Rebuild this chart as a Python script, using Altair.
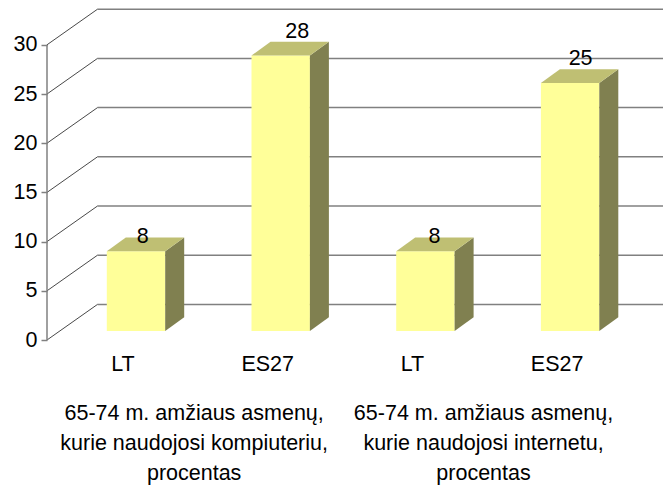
import altair as alt
import pandas as pd

# ---- chart values ----
categories = ["LT", "ES27", "LT", "ES27"]
values = [8.1, 28.0, 8.1, 25.2]
group_labels = [
    "65-74 m. amžiaus asmenų,\nkurie naudojosi kompiuteriu,\nprocentas",
    "65-74 m. amžiaus asmenų,\nkurie naudojosi internetu,\nprocentas",
]
group_centers = [0.495, 2.495]
y_ticks = [0, 5, 10, 15, 20, 25, 30]

# ---- 3D projection, in scale units ----
PX_X = 144.7            # px per category
PX_Y = 9.84             # px per value unit
WALL_DX, WALL_DY = 50.5 / PX_X, 35.6 / PX_Y
BAR_SHIFT = 13.5 / PX_X
BAR_HALF = 29.2 / PX_X
BAR_BASE = 9.0 / PX_Y
BAR_DX, BAR_DY = 19.0 / PX_X, 13.8 / PX_Y
X_DOMAIN = [-75.5 / PX_X, 540.5 / PX_X]
Y_DOMAIN = [0, 332 / PX_Y]
LABEL_NUDGE_X = [6.7, 16.5, 9.0, 10.5]
LABEL_NUDGE_Y = [8.0, 17.5, 8.0, 18.0]

FONT = "Liberation Sans"
FS = 21.5
FRONT, TOP, SIDE = "#FFFF99", "#BFBF73", "#808050"
GRID = "#808080"

xs = alt.Scale(domain=X_DOMAIN, nice=False, zero=False)
ys = alt.Scale(domain=Y_DOMAIN, nice=False, zero=False)
x_axis = alt.Axis(
    values=list(range(len(categories))),
    labelExpr="[" + ",".join(f"'{c}'" for c in categories) + "][datum.value]",
    domain=False, ticks=False, grid=False, title=None, labelFont=FONT, labelFontSize=FS,
    labelColor="black", labelPadding=13, labelOverlap=False, labelFlush=False)
y_axis = alt.Axis(
    values=y_ticks, domain=False, grid=False, title=None, tickColor=GRID, tickWidth=1.5,
    tickSize=6, labelFont=FONT, labelFontSize=FS, labelColor="black", labelPadding=4)
X = lambda f="x": alt.X(f"{f}:Q", scale=xs, axis=x_axis)
Y = lambda f="y": alt.Y(f"{f}:Q", scale=ys, axis=y_axis)

# gridlines
slant, flat = [], []
for t in y_ticks:
    slant += [{"t": t, "x": X_DOMAIN[0], "y": t},
              {"t": t, "x": X_DOMAIN[0] + WALL_DX, "y": t + WALL_DY}]
    flat += [{"t": t, "x": X_DOMAIN[0] + WALL_DX, "y": t + WALL_DY},
             {"t": t, "x": X_DOMAIN[1], "y": t + WALL_DY}]
slant_layer = alt.Chart(pd.DataFrame(slant)).mark_line(color="#333333", strokeWidth=0.9).encode(
    x=X(), y=Y(), detail="t:N")
flat_layer = alt.Chart(pd.DataFrame(flat)).mark_line(color=GRID, strokeWidth=1.5).encode(
    x=X(), y=Y(), detail="t:N")

# bar faces
front, side, top, labels = [], [], [], []
for i, v in enumerate(values):
    l = i + BAR_SHIFT - BAR_HALF
    r = i + BAR_SHIFT + BAR_HALF
    t = BAR_BASE + v
    front.append({"x": l, "x2": r, "y": BAR_BASE, "y2": t})
    side += [{"b": i, "x": r, "y": BAR_BASE, "y2": t},
             {"b": i, "x": r + BAR_DX, "y": BAR_BASE + BAR_DY, "y2": t + BAR_DY}]
    top += [{"b": i, "y": t, "x": l, "x2": r},
            {"b": i, "y": t + BAR_DY, "x": l + BAR_DX, "x2": r + BAR_DX}]
    labels.append({"x": i + BAR_SHIFT + LABEL_NUDGE_X[i] / PX_X,
                   "y": t + LABEL_NUDGE_Y[i] / PX_Y,
                   "text": f"{v:.0f}"})

front_layer = alt.Chart(pd.DataFrame(front)).mark_rect(color=FRONT).encode(
    x=X(), x2="x2:Q", y=Y(), y2="y2:Q")
side_layer = alt.Chart(pd.DataFrame(side)).mark_area(color=SIDE, orient="vertical").encode(
    x=X(), y=Y(), y2="y2:Q", detail="b:N")
top_layer = alt.Chart(pd.DataFrame(top)).mark_area(color=TOP, orient="horizontal").encode(
    y=Y(), x=X(), x2="x2:Q", detail="b:N")

label_layer = alt.Chart(pd.DataFrame(labels)).mark_text(
    font=FONT, fontSize=FS, color="black", baseline="alphabetic").encode(
    x=X(), y=Y(), text="text:N")

# vertical axis line, from the lowest tick to the highest
axis_df = pd.DataFrame({"x": [X_DOMAIN[0]], "y": [min(y_ticks)], "y2": [max(y_ticks)]})
axis_rule = alt.Chart(axis_df).mark_rule(color=GRID, strokeWidth=1.5).encode(
    x=X(), y=Y(), y2="y2:Q")

group_df = pd.DataFrame({"x": group_centers, "text": group_labels})
group_layer = alt.Chart(group_df).mark_text(
    font=FONT, fontSize=FS, color="black", lineBreak="\n", lineHeight=30, baseline="top", align="center"
).encode(x=X(), y=alt.value(395), text="text:N")

chart = alt.layer(
    flat_layer, slant_layer, axis_rule, front_layer, side_layer, top_layer, label_layer, group_layer
).properties(
    width=616, height=332,
    padding={"left": 39, "top": 0, "right": 0, "bottom": 146},
    autosize=alt.AutoSizeParams(type="none"),
).configure_view(stroke=None)

chart.save("out.html", embed_options={"renderer": "svg", "actions": False})
